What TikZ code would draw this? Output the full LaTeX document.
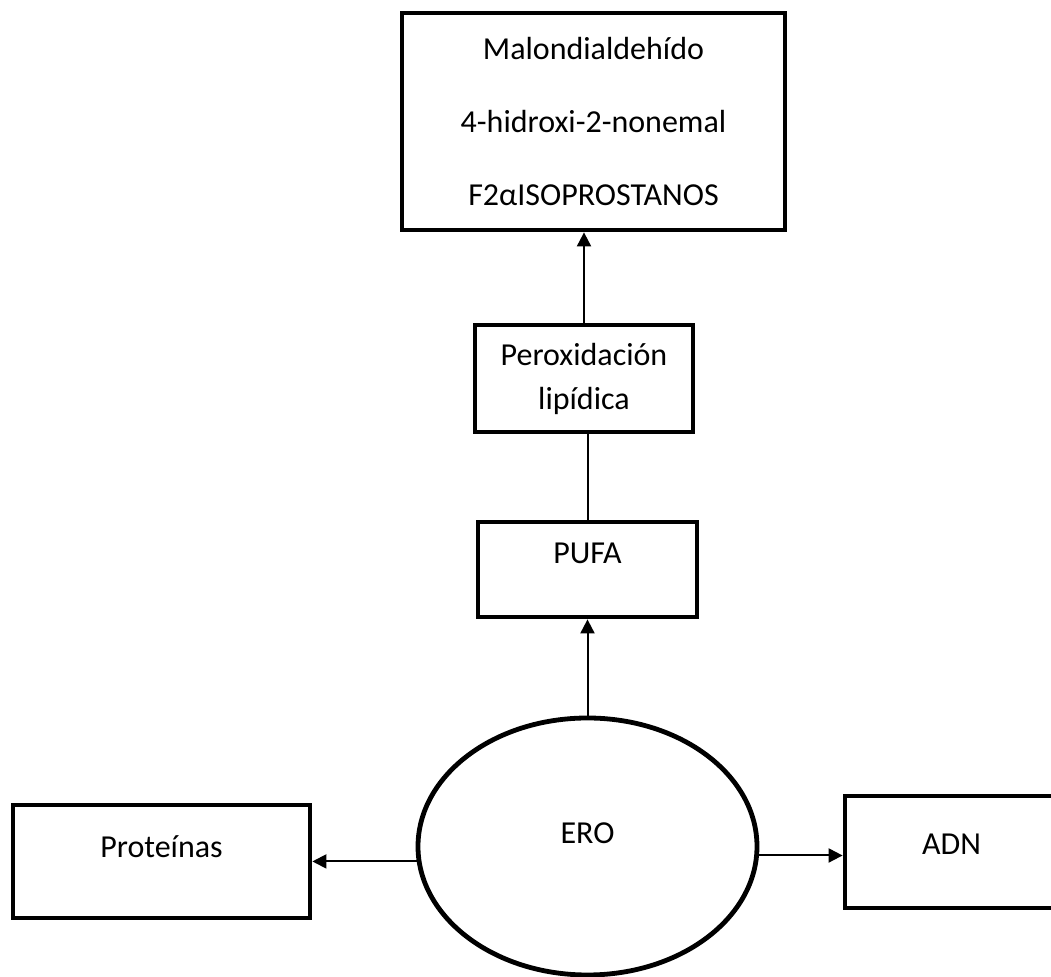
\documentclass[tikz,border=0pt]{standalone}
\usepackage{fontspec}
\setmainfont{Carlito}
\usetikzlibrary{arrows.meta,shapes.geometric}

\begin{document}
\begin{tikzpicture}[
  x=0.5pt, y=-0.5pt,
  font=\fontsize{16}{19.5}\selectfont,
  box/.style={draw, line width=2.4pt, align=center, inner sep=0pt},
  lowtext/.style={text height=11pt, text depth=#1},
  link/.style={line width=1pt},
  >={Triangle[length=7pt,width=7pt]}
]
\useasboundingbox (0,0) rectangle (1051,977);

\node[box, minimum width=191.5pt, minimum height=108.5pt] (prod) at (593.5,121.5)
  {Malondialdehído\\[17pt]4-hidroxi-2-nonemal\\[17pt]F2αISOPROSTANOS};
\node[box, minimum width=109pt, minimum height=53.5pt] (perox) at (584,378.5)
  {Peroxidación\\[2.5pt]lipídica};
\node[box, lowtext=17pt, minimum width=109.5pt, minimum height=47.5pt] (pufa) at (587.5,569.5) {PUFA};
\node[box, ellipse, lowtext=14pt, minimum width=169.5pt, minimum height=128.5pt] (ero) at (587.5,846.5) {ERO};
\node[box, lowtext=15pt, minimum width=148.5pt, minimum height=56.5pt] (prot) at (161.5,861.5) {Proteínas};
\node[box, lowtext=8pt, minimum width=106.5pt, minimum height=56pt] (adn) at (951.5,852) {ADN};

\draw[link, ->] (perox.north) -- (perox.north |- prod.south);
\draw[link] (pufa.north) -- (pufa.north |- perox.south);
\draw[link, ->] (ero.north) -- (ero.north |- pufa.south);
\draw[link, ->] (ero.185) -- (ero.185 -| prot.east);
\draw[link, ->] (ero.357) -- (ero.357 -| adn.west);

\end{tikzpicture}
\end{document}
